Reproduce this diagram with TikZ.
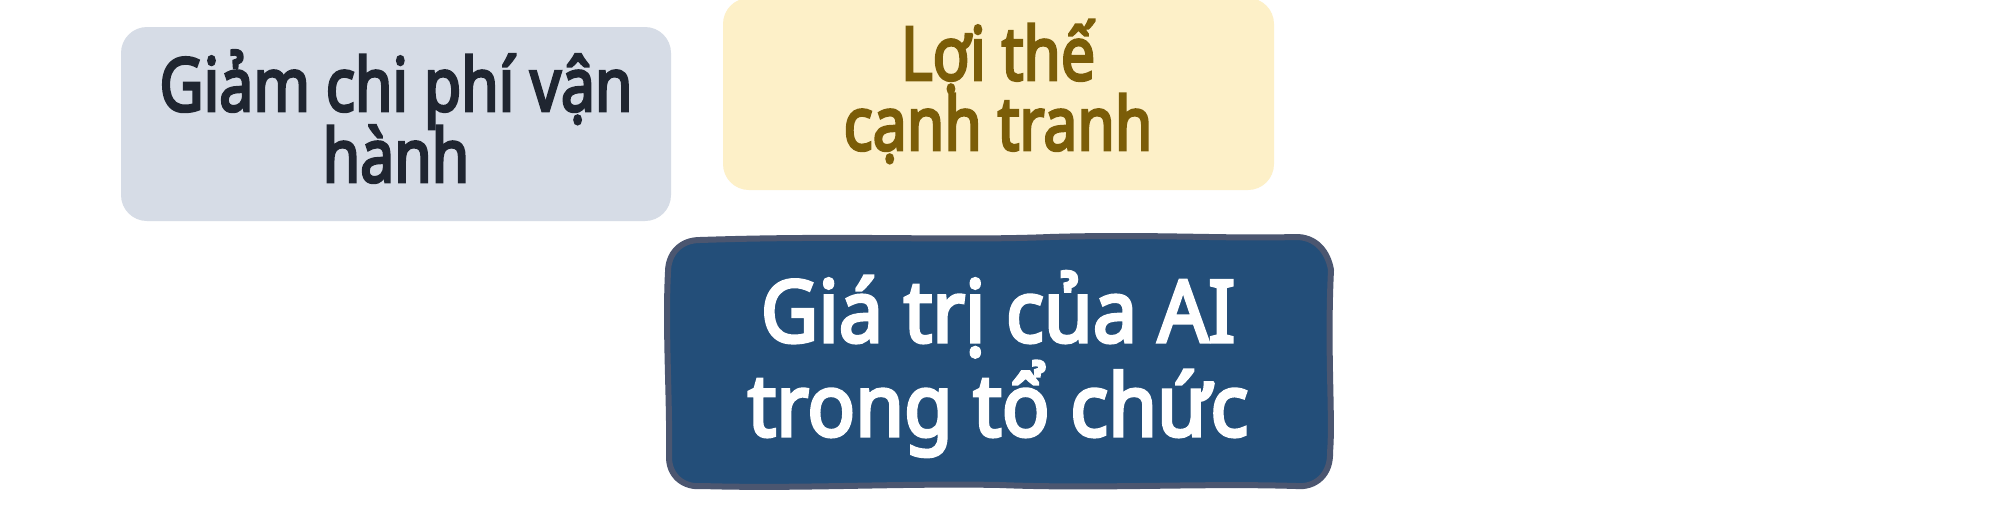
\documentclass[tikz,border=0pt]{standalone}
\usepackage{fontspec}
\setmainfont{Noto Sans}[AutoFakeBold=4]
\definecolor{grayfill}{HTML}{D6DCE6}
\definecolor{graytext}{HTML}{1F2530}
\definecolor{yelfill}{HTML}{FDF0C8}
\definecolor{yeltext}{HTML}{7B5D08}
\definecolor{bluefill}{HTML}{234E79}
\definecolor{blueline}{HTML}{4B5670}
\newcommand{\sq}[1]{\scalebox{0.82}[1]{#1}}
\newcommand{\sqb}[1]{\scalebox{0.92}[1]{#1}}
\tikzset{
  softbox/.style={rounded corners=26pt},
  boxtext/.style={anchor=base, inner sep=0pt, font=\bfseries\fontsize{74}{80}\selectfont},
  bigtext/.style={anchor=base, inner sep=0pt, text=white, font=\bfseries\fontsize{86}{95}\selectfont},
  bluebox/.style={fill=bluefill, draw=blueline, line width=6pt, line join=round}
}
\begin{document}
\begin{tikzpicture}[x=1pt,y=-1pt]
\useasboundingbox[fill=white] (0,0) rectangle (2000,528);
% gray box
\fill[grayfill, softbox] (121,27) rectangle (671,221);
\node[boxtext, text=graytext] (g1) at (396,111) {\sq{Giảm chi phí vận}};
\node[boxtext, text=graytext] (g2) at (396,182) {\sq{hành}};
% yellow box
\fill[yelfill, softbox] (723,-2) rectangle (1274,190);
\node[boxtext, text=yeltext] (y1) at (998,80) {\sq{Lợi thế}};
\node[boxtext, text=yeltext] (y2) at (998,150) {\sq{cạnh tranh}};
% blue box
\draw[bluebox] (700,240) .. controls (850,235) and (950,241) .. (1050,237)
  .. controls (1150,234) and (1230,239) .. (1294,237)
  .. controls (1316,236) and (1328,252) .. (1331,270)
  .. controls (1327,350) and (1333,420) .. (1330,452)
  .. controls (1331,474) and (1316,488) .. (1296,486)
  .. controls (1200,483) and (1100,489) .. (1000,485)
  .. controls (900,483) and (800,489) .. (702,486)
  .. controls (684,488) and (668,476) .. (669,455)
  .. controls (670,400) and (665,330) .. (668,272)
  .. controls (668,254) and (680,240) .. cycle;
\node[bigtext] (b1) at (998,342) {\sqb{Giá trị của AI}};
\node[bigtext] (b2) at (998,436) {\sqb{trong tổ chức}};
\end{tikzpicture}
\end{document}
